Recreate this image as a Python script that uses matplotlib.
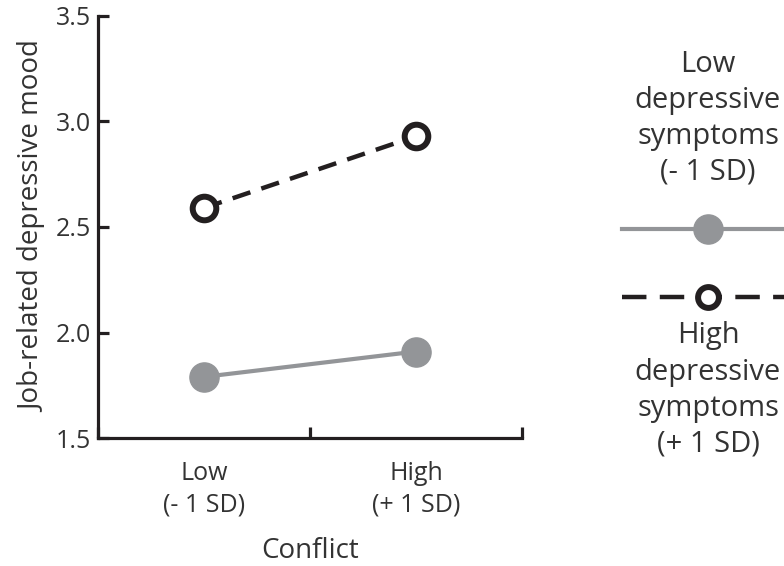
import matplotlib
matplotlib.use("Agg")
import matplotlib.pyplot as plt
from matplotlib.lines import Line2D

# data
conflict_pos = [0.5, 1.5]
conflict_labels = ["Low\n(- 1 SD)", "High\n(+ 1 SD)"]
low_symptoms = [1.79, 1.91]
high_symptoms = [2.59, 2.93]

GRAY = "#939598"
BLACK = "#231f20"
TEXT = "#333333"
FONT = ["Open Sans", "DejaVu Sans"]

plt.rcParams["font.family"] = FONT

fig = plt.figure(figsize=(7.84, 5.66), dpi=100)
ax = fig.add_axes([0.125, 0.226, 0.541, 0.746])

ax.plot(conflict_pos, low_symptoms, color=GRAY, lw=3, marker="o",
        ms=21, mfc=GRAY, mec=GRAY, clip_on=False)
ax.plot(conflict_pos, high_symptoms, color=BLACK, lw=3.2, ls=(0, (4.2, 2.6)),
        marker="o", ms=17, mfc="white", mec=BLACK, mew=4.3, clip_on=False)

ax.set_xlim(0, 2)
ax.set_ylim(1.5, 3.5)
ax.set_yticks([1.5, 2.0, 2.5, 3.0, 3.5])
ax.set_yticklabels(["1.5", "2.0", "2.5", "3.0", "3.5"])
ax.set_xticks([0, 1, 2])
ax.set_xticklabels([])
for x, lab in zip(conflict_pos, conflict_labels):
    ax.text(x, -0.055, lab, transform=ax.get_xaxis_transform(), ha="center",
            va="top", fontsize=18, color=TEXT, linespacing=1.35)

for side in ["top", "right"]:
    ax.spines[side].set_visible(False)
for side in ["left", "bottom"]:
    ax.spines[side].set_linewidth(2.3)
    ax.spines[side].set_color(BLACK)
ax.tick_params(axis="both", direction="in", length=8, width=2.3, color=BLACK,
               labelsize=18, labelcolor=TEXT, pad=5)

ax.set_ylabel("Job-related depressive mood", fontsize=20, color=TEXT,
              labelpad=6)
ax.text(0.5, -0.235, "Conflict", transform=ax.transAxes, ha="center",
        va="top", fontsize=20, color=TEXT)

# hand-built legend on the right, clipped by the figure edge
fig.text(0.903, 0.912, "Low\ndepressive\nsymptoms\n(- 1 SD)", ha="center",
         va="top", fontsize=21, color=TEXT, linespacing=1.32)
fig.add_artist(Line2D([0.793, 1.0], [0.595, 0.595], transform=fig.transFigure,
                      color=GRAY, lw=3))
fig.add_artist(Line2D([0.903], [0.595], transform=fig.transFigure,
                      marker="o", ms=21, mfc=GRAY, mec=GRAY, ls="none"))
fig.add_artist(Line2D([0.793, 1.0], [0.475, 0.475], transform=fig.transFigure,
                      color=BLACK, lw=3.2, ls=(0, (5.5, 3))))
fig.add_artist(Line2D([0.903], [0.475], transform=fig.transFigure,
                      marker="o", ms=15, mfc="white", mec=BLACK, mew=4.3,
                      ls="none"))
fig.text(0.903, 0.432, "High\ndepressive\nsymptoms\n(+ 1 SD)", ha="center",
         va="top", fontsize=21, color=TEXT, linespacing=1.32)

fig.savefig("out.png", dpi=100)
